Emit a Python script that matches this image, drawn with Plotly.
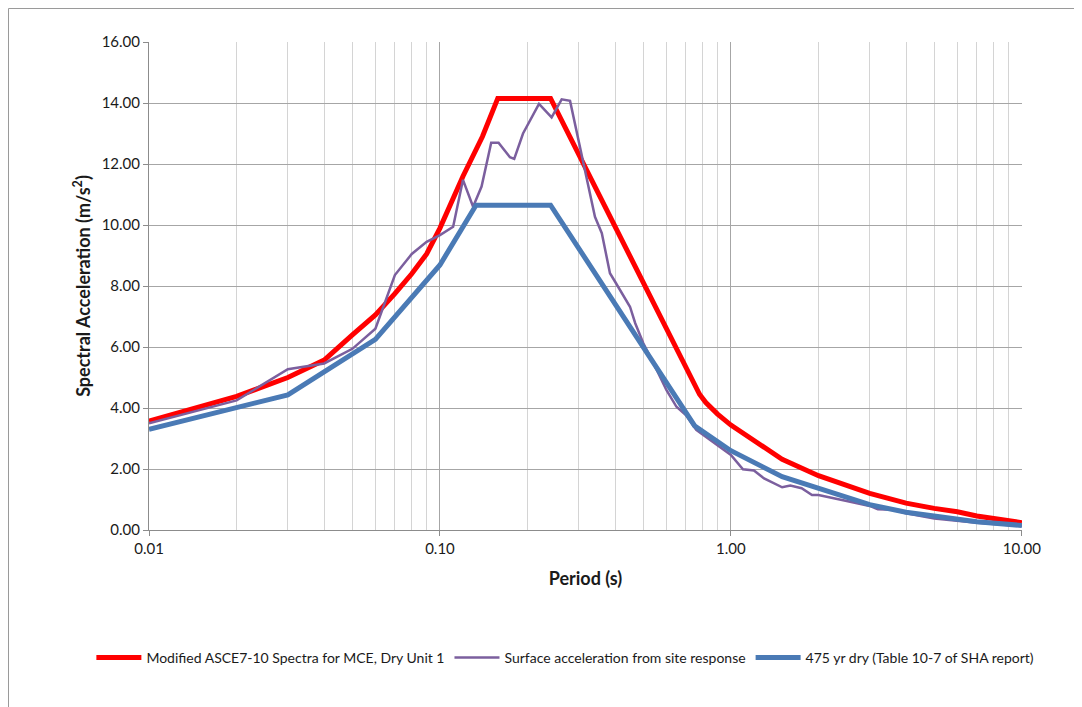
import plotly.graph_objects as go

# ---- data ----
red_name = "Modified ASCE7-10 Spectra for MCE, Dry Unit 1"
red_x = [0.01, 0.02, 0.03, 0.04, 0.05, 0.06, 0.07, 0.08, 0.09, 0.10, 0.12, 0.14, 0.158,
         0.24, 0.78, 0.82, 0.90, 1.0, 1.5, 2.0, 3.0, 4.0, 5.0, 6.0, 7.0, 8.0, 10.0]
red_y = [3.57, 4.38, 5.00, 5.57, 6.40, 7.05, 7.75, 8.40, 9.05, 9.90, 11.60, 12.90, 14.15,
         14.15, 4.45, 4.18, 3.80, 3.44, 2.32, 1.78, 1.20, 0.88, 0.71, 0.60, 0.46, 0.38, 0.24]

purple_name = "Surface acceleration from site response"
purple_x = [0.01, 0.02, 0.03, 0.04, 0.05, 0.06, 0.07, 0.08, 0.09, 0.10, 0.111, 0.12, 0.13,
            0.139, 0.15, 0.159, 0.174, 0.18, 0.193, 0.204, 0.219, 0.242, 0.262, 0.28,
            0.303, 0.319, 0.341, 0.36, 0.384, 0.40, 0.45, 0.469, 0.50, 0.556, 0.60,
            0.65, 0.70, 0.76, 0.82, 0.90, 1.0, 1.1, 1.2, 1.3, 1.5, 1.6, 1.75, 1.9, 2.0,
            2.5, 3.0, 3.2, 3.6, 4.0, 5.0, 7.0, 10.0]
purple_y = [3.50, 4.25, 5.27, 5.46, 5.94, 6.60, 8.36, 9.05, 9.45, 9.67, 9.94, 11.48, 10.60,
            11.26, 12.70, 12.70, 12.22, 12.17, 13.00, 13.44, 13.97, 13.53, 14.12, 14.07,
            12.57, 11.48, 10.27, 9.73, 8.42, 8.14, 7.32, 6.78, 6.12, 5.25, 4.59,
            4.04, 3.77, 3.28, 3.06, 2.79, 2.46, 1.99, 1.95, 1.69, 1.40, 1.46, 1.37, 1.15, 1.15,
            0.95, 0.79, 0.68, 0.66, 0.55, 0.38, 0.24, 0.13]

blue_name = "475 yr dry (Table 10-7 of SHA report)"
blue_x = [0.01, 0.02, 0.03, 0.06, 0.10, 0.133, 0.24, 0.75, 1.0, 1.5, 2.0, 3.0, 4.0, 5.0, 7.0, 10.0]
blue_y = [3.30, 4.00, 4.43, 6.25, 8.69, 10.65, 10.65, 3.42, 2.60, 1.75, 1.37, 0.83, 0.58, 0.44, 0.27, 0.15]

x_tick_vals = [0.01, 0.1, 1, 10]
x_tick_text = ["0.01", "0.10", "1.00", "10.00"]
x_minor_vals = [m * d for d in (0.01, 0.1, 1) for m in range(2, 10)]

FONT = "Lato"
TXT = "#1a1a1a"

fig = go.Figure()
fig.add_trace(go.Scatter(x=red_x, y=red_y, mode="lines", name=red_name,
                         line=dict(color="#ff0000", width=5)))
fig.add_trace(go.Scatter(x=purple_x, y=purple_y, mode="lines", name=purple_name,
                         line=dict(color="#7b5f9e", width=2.5)))
fig.add_trace(go.Scatter(x=blue_x, y=blue_y, mode="lines", name=blue_name,
                         line=dict(color="#4a7ab5", width=5)))

fig.update_layout(
    width=1082, height=707,
    margin=dict(l=141, r=68, t=34, b=185),
    paper_bgcolor="white", plot_bgcolor="white",
    font=dict(family=FONT, size=15, color=TXT),
    showlegend=True,
    legend=dict(orientation="h", x=-0.066, xanchor="left", y=-0.262, yanchor="middle",
                font=dict(family=FONT, size=14, color=TXT), itemwidth=45,
                tracegroupgap=0, bgcolor="rgba(0,0,0,0)"),
    xaxis=dict(
        type="log", range=[-2, 1.0005],
        tickmode="array", tickvals=x_tick_vals, ticktext=x_tick_text,
        showgrid=True, gridcolor="#a6a6a6", gridwidth=1,
        minor=dict(tickmode="array", tickvals=x_minor_vals, showgrid=True,
                   gridcolor="#d4d4d4", gridwidth=1),
        showline=True, linecolor="#8c8c8c", linewidth=1,
        ticks="outside", ticklen=5, tickcolor="#8c8c8c",
        tickfont=dict(family=FONT, size=15, color=TXT),
        title=dict(text="<b>Period (s)</b>", font=dict(family=FONT, size=18, color=TXT), standoff=16),
        zeroline=False,
    ),
    yaxis=dict(
        range=[0, 16], dtick=2, tick0=0, tickformat=".2f",
        showgrid=True, gridcolor="#a6a6a6", gridwidth=1,
        showline=True, linecolor="#8c8c8c", linewidth=1,
        ticks="outside", ticklen=5, tickcolor="#8c8c8c",
        tickfont=dict(family=FONT, size=15, color=TXT),
        title=dict(text="<b>Spectral Acceleration (m/s<sup>2</sup>)</b>",
                   font=dict(family=FONT, size=18, color=TXT), standoff=6),
        zeroline=False,
    ),
    shapes=[dict(type="rect", xref="paper", yref="paper",
                 x0=(8.5 - 149) / 873, x1=(1120 - 149) / 873,
                 y0=(530 - 740) / 488, y1=(530 - 8.5) / 488,
                 line=dict(color="#9a9a9a", width=1), fillcolor="rgba(0,0,0,0)", layer="below")],
)

fig.write_html("out.html")
